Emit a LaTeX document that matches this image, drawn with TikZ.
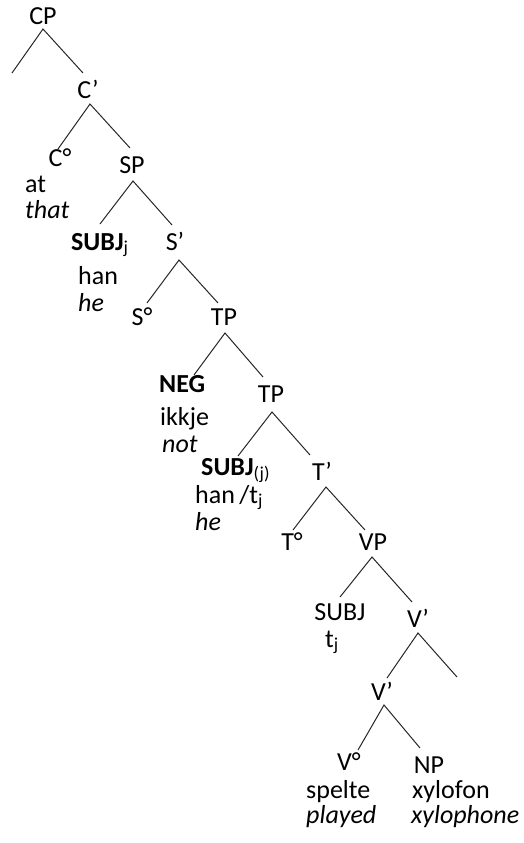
\documentclass[tikz,border=0pt]{standalone}
\usepackage{fontspec}
\setmainfont{Carlito}
\begin{document}
\begin{tikzpicture}[x=1pt,y=-1pt,
  lbl/.style={font=\fontsize{26}{31}\selectfont, inner sep=0pt, anchor=base},
  lft/.style={lbl, anchor=base west},
  br/.style={line width=1pt, black!85}]
\useasboundingbox (0,0) rectangle (524,843);
% labels
\node[lbl] (CP) at (43,25) {CP};
\node[lbl] (C1) at (88,99) {C’};
\node[lbl] (C0) at (60,166) {C°};
\node[lft] (at) at (25,192) {at};
\node[lft] (that) at (25,218) {\itshape that};
\node[lbl] (SP) at (132,173) {SP};
\node[lft] (subj1) at (71,250) {\textbf{SUBJ}\textsubscript{j}};
\node[lft] (han1) at (78,284) {han};
\node[lft] (he1) at (78,311) {\itshape he};
\node[lbl] (S1) at (175,250) {S’};
\node[lbl] (S0) at (142,325) {S°};
\node[lbl] (TP) at (224,325) {TP};
\node[lft] (neg) at (159,392) {\bfseries NEG};
\node[lft] (ikkje) at (160,425) {ikkje};
\node[lft] (not) at (162,452) {\itshape not};
\node[lbl] (TP2) at (271,402) {TP};
\node[lft] (subj2) at (201,475) {\textbf{SUBJ}\textsubscript{(j)}};
\node[lft] (han2) at (195,503) {han\,/t\textsubscript{j}};
\node[lft] (he2) at (195,530) {\itshape he};
\node[lbl] (T1) at (322,480) {T’};
\node[lbl] (T0) at (292,550) {T°};
\node[lbl] (VP) at (373,550) {VP};
\node[lbl] (subj3) at (340,620) {SUBJ};
\node[lft] (tj) at (325,647) {t\textsubscript{j}};
\node[lbl] (V1) at (418,627) {V’};
\node[lbl] (V2) at (382,700) {V’};
\node[lbl] (V0) at (349,770) {V°};
\node[lft] (spelte) at (306,798) {spelte};
\node[lft] (played) at (306,823) {\itshape played};
\node[lbl] (NP) at (429,773) {NP};
\node[lft] (xylofon) at (412,798) {xylofon};
\node[lft] (xyloph) at (411,823) {\itshape xylophone};
% branch points
\coordinate (cpL) at (12,73);   \coordinate (cpA) at (43,29);   \coordinate (cpR) at (83,73);
\coordinate (c1L) at (58,149);  \coordinate (c1A) at (90,104);  \coordinate (c1R) at (130,148);
\coordinate (spL) at (100,224); \coordinate (spA) at (133,181); \coordinate (spR) at (172,225);
\coordinate (s1L) at (147,303); \coordinate (s1A) at (179,260); \coordinate (s1R) at (218,303);
\coordinate (tpL) at (194,375); \coordinate (tpA) at (225,333); \coordinate (tpR) at (263,377);
\coordinate (tp2L) at (238,456);\coordinate (tp2A) at (272,412);\coordinate (tp2R) at (310,455);
\coordinate (t1L) at (293,530); \coordinate (t1A) at (326,487); \coordinate (t1R) at (365,530);
\coordinate (vpL) at (340,597); \coordinate (vpA) at (372,557); \coordinate (vpR) at (412,602);
\coordinate (v1L) at (387,678); \coordinate (v1A) at (418,633); \coordinate (v1R) at (457,677);
\coordinate (v2L) at (358,750); \coordinate (v2A) at (384,705); \coordinate (v2R) at (420,748);
% branches
\foreach \n in {cp,c1,sp,s1,tp,tp2,t1,vp,v1,v2}
  \draw[br] (\n L) -- (\n A) -- (\n R);
\end{tikzpicture}
\end{document}
